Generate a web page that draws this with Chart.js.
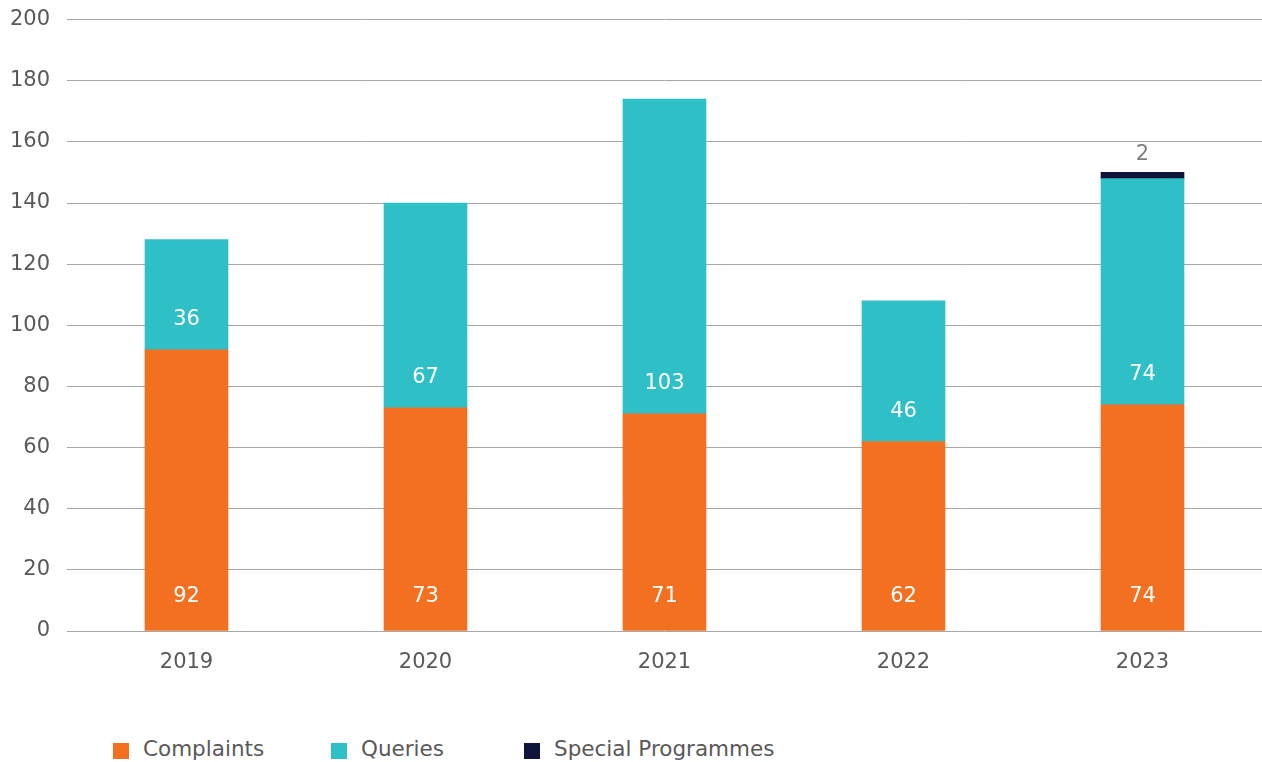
<!DOCTYPE html>
<html>
<head>
<meta charset="utf-8">
<script src="https://cdn.jsdelivr.net/npm/chart.js@4"></script>
<style>
  body { margin: 0; background: #fff; font-family: "DejaVu Sans", sans-serif; overflow: hidden; }
  #wrap { position: relative; width: 1262px; height: 762px; overflow: hidden; }
  #chart-box { position: absolute; left: 0; top: -10px; width: 1262px; height: 710px; }
  .legend { position: absolute; top: 736px; left: 0; height: 28px; font-size: 21.5px; color: #595959; }
  .legend span.box { position: absolute; top: 7px; width: 16px; height: 16px; }
  .legend span.txt { position: absolute; top: 0; white-space: nowrap; }
</style>
</head>
<body>
<div id="wrap">
  <div id="chart-box"><canvas id="myChart"></canvas></div>
  <div class="legend" id="legend"></div>
</div>
<script>
const years = ['2019', '2020', '2021', '2022', '2023'];
const complaints = [92, 73, 71, 62, 74];
const queries = [36, 67, 103, 46, 74];
const specialProgrammes = [null, null, null, null, 2];
const yTicks = [0, 20, 40, 60, 80, 100, 120, 140, 160, 180, 200];

const colours = ['#F37021', '#2FBFC6', '#10143A'];
const seriesNames = ['Complaints', 'Queries', 'Special Programmes'];

// simple value labels, drawn after the bars
const barLabels = {
    id: 'barLabels',
    afterDatasetsDraw(chart) {
        const c = chart.ctx;
        c.save();
        c.font = '21px "DejaVu Sans", sans-serif';
        c.textAlign = 'center';
        c.textBaseline = 'middle';
        chart.data.datasets.forEach((ds, i) => {
            const meta = chart.getDatasetMeta(i);
            meta.data.forEach((bar, j) => {
                const v = ds.data[j];
                if (v == null) return;
                if (i == 0) {
                    c.fillStyle = '#ffffff';
                    c.fillText(v, bar.x, bar.base - 34);
                } else if (i == 1) {
                    c.fillStyle = '#ffffff';
                    c.fillText(v, bar.x, bar.base - 30);
                } else {
                    c.fillStyle = '#7f7f7f';
                    c.fillText(v, bar.x, bar.y - 18);
                }
            });
        });
        c.restore();
    }
};

const ctx = document.getElementById('myChart').getContext('2d');

const data = {
    labels: years,
    datasets: [
        { label: seriesNames[0], data: complaints, backgroundColor: colours[0] },
        { label: seriesNames[1], data: queries, backgroundColor: colours[1] },
        { label: seriesNames[2], data: specialProgrammes, backgroundColor: colours[2] }
    ]
};

const tickFont = { size: 21, family: '"DejaVu Sans", sans-serif' };

const config = {
    type: 'bar',
    data: data,
    options: {
        responsive: true,
        maintainAspectRatio: false,
        animation: false,
        layout: { padding: { top: 0, right: 0, left: 0, bottom: 0 } },
        datasets: { bar: { barThickness: 83 } },
        scales: {
            x: {
                stacked: true,
                grid: { display: false },
                border: { display: false },
                ticks: { color: '#595959', font: tickFont, padding: 11 },
                afterFit(scale) { scale.height = 69; }
            },
            y: {
                stacked: true,
                min: 0,
                max: 200,
                afterBuildTicks(scale) { scale.ticks = yTicks.map(v => ({ value: v })); },
                grid: { color: '#a6a6a6', lineWidth: 1, drawTicks: false },
                border: { display: false },
                ticks: { color: '#595959', font: tickFont, padding: 17 },
                afterFit(scale) { scale.width = 67; }
            }
        },
        plugins: {
            legend: { display: false },
            tooltip: { enabled: false }
        }
    },
    plugins: [barLabels]
};

const myChart = new Chart(ctx, config);

// legend underneath, laid out like the original
const legendX = [113, 331, 524];
const legend = document.getElementById('legend');
seriesNames.forEach((name, i) => {
    const box = document.createElement('span');
    box.className = 'box';
    box.style.left = legendX[i] + 'px';
    box.style.background = colours[i];
    legend.appendChild(box);
    const txt = document.createElement('span');
    txt.className = 'txt';
    txt.style.left = (legendX[i] + 30) + 'px';
    txt.textContent = name;
    legend.appendChild(txt);
});
</script>
</body>
</html>
